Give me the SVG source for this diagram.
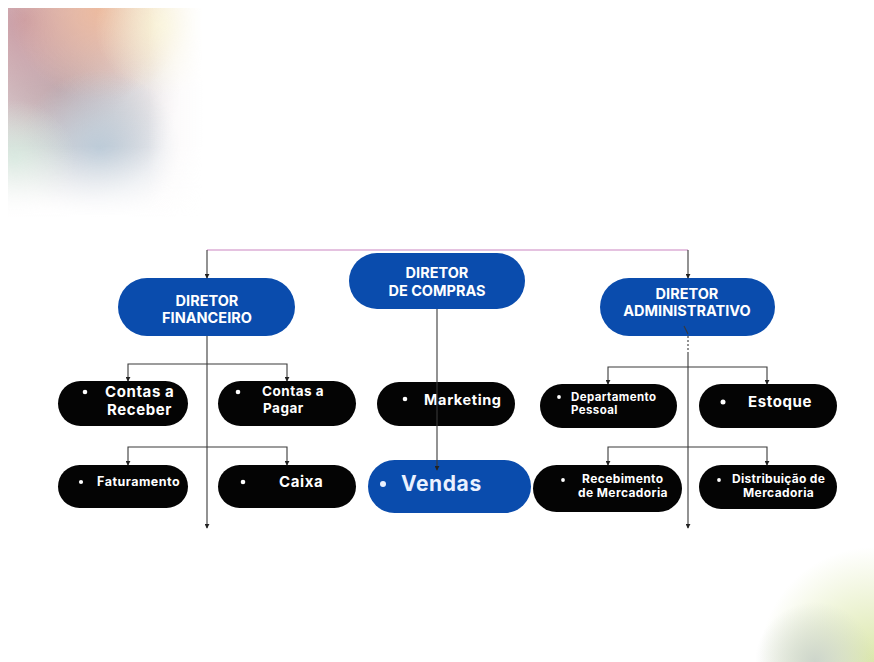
<svg xmlns="http://www.w3.org/2000/svg" width="874" height="662" viewBox="0 0 874 662">
<defs>
<style>
.blue{fill:#0a4cad}
.blk{fill:#040404}
.t{font-family:"Inter","Liberation Sans",sans-serif;font-weight:700;fill:#ffffff}
.h{font-size:14.5px;text-anchor:middle}
.c{fill:none;stroke:#3a3a3a;stroke-width:1.1}
</style>
<marker id="ar" viewBox="0 0 6 6" refX="5" refY="3" markerWidth="5" markerHeight="5" orient="auto" markerUnits="userSpaceOnUse">
<path d="M0,0 L6,3 L0,6 z" fill="#222"/>
</marker>
<clipPath id="tl"><rect x="8" y="8" width="200" height="215"/></clipPath>
<linearGradient id="fx" x1="0" y1="0" x2="1" y2="0"><stop offset="0.72" stop-color="#fff"/><stop offset="1" stop-color="#000"/></linearGradient>
<linearGradient id="fy" x1="0" y1="0" x2="0" y2="1"><stop offset="0.66" stop-color="#fff"/><stop offset="1" stop-color="#000"/></linearGradient>
<mask id="mx" maskUnits="userSpaceOnUse" x="0" y="0" width="874" height="662"><rect x="8" y="8" width="195" height="215" fill="url(#fx)"/></mask>
<mask id="my" maskUnits="userSpaceOnUse" x="0" y="0" width="874" height="662"><rect x="8" y="8" width="195" height="210" fill="url(#fy)"/></mask>
<radialGradient id="g1"><stop offset="0" stop-color="#c99ba3"/><stop offset="1" stop-color="#c99ba3" stop-opacity="0"/></radialGradient>
<radialGradient id="g2"><stop offset="0" stop-color="#ecba9f"/><stop offset="1" stop-color="#ecba9f" stop-opacity="0"/></radialGradient>
<radialGradient id="g3"><stop offset="0" stop-color="#f8f2d4"/><stop offset="1" stop-color="#f8f2d4" stop-opacity="0"/></radialGradient>
<radialGradient id="g4"><stop offset="0" stop-color="#bccbd8"/><stop offset="1" stop-color="#bccbd8" stop-opacity="0"/></radialGradient>
<radialGradient id="g5"><stop offset="0" stop-color="#d4e6dc"/><stop offset="1" stop-color="#d4e6dc" stop-opacity="0"/></radialGradient>
<radialGradient id="g6"><stop offset="0" stop-color="#bcb3b6"/><stop offset="1" stop-color="#bcb3b6" stop-opacity="0"/></radialGradient>
<radialGradient id="g7"><stop offset="0" stop-color="#dbe7aa"/><stop offset="1" stop-color="#dbe7aa" stop-opacity="0"/></radialGradient>
<radialGradient id="g8"><stop offset="0" stop-color="#cdd5cb"/><stop offset="1" stop-color="#cdd5cb" stop-opacity="0"/></radialGradient>
</defs>
<rect width="874" height="662" fill="#ffffff"/>
<g id="bg-top-left" mask="url(#mx)"><g mask="url(#my)"><g clip-path="url(#tl)">
<rect x="8" y="8" width="200" height="215" fill="#f3eef0" opacity="0.5"/>
<circle cx="60" cy="90" r="120" fill="url(#g6)"/>
<circle cx="25" cy="20" r="130" fill="url(#g1)"/>
<circle cx="100" cy="10" r="90" fill="url(#g2)"/>
<circle cx="165" cy="25" r="70" fill="url(#g3)"/>
<circle cx="100" cy="150" r="80" fill="url(#g4)"/>
<circle cx="15" cy="160" r="60" fill="url(#g5)"/>
</g></g></g>
<g id="bg-bottom-right">
<circle cx="874" cy="662" r="115" fill="url(#g7)"/>
<circle cx="815" cy="662" r="60" fill="url(#g8)"/>
</g>
<g id="dir-financeiro"><rect class="blue" x="118" y="278" width="177" height="58" rx="29"/>
<text class="t h" x="207" y="306">DIRETOR</text><text class="t h" x="207" y="323">FINANCEIRO</text></g>
<g id="dir-compras"><rect class="blue" x="349" y="253" width="176" height="56" rx="28"/>
<text class="t h" x="437" y="278">DIRETOR</text><text class="t h" x="437" y="296">DE COMPRAS</text></g>
<g id="dir-administrativo"><rect class="blue" x="600" y="278" width="175" height="58" rx="29"/>
<text class="t h" x="687" y="299">DIRETOR</text><text class="t h" x="687" y="316">ADMINISTRATIVO</text></g>
<g id="contas-receber"><rect class="blk" x="58" y="381" width="130" height="45" rx="22.5"/>
<circle cx="85" cy="392" r="2.3" fill="#fff"/>
<text class="t" font-size="15" letter-spacing="0.6" x="105" y="397">Contas a</text><text class="t" font-size="15" letter-spacing="0.6" x="107" y="415">Receber</text></g>
<g id="contas-pagar"><rect class="blk" x="218" y="381" width="138" height="45" rx="22.5"/>
<circle cx="238" cy="392" r="2.3" fill="#fff"/>
<text class="t" font-size="13.5" letter-spacing="0.5" x="262" y="396">Contas a</text><text class="t" font-size="13.5" letter-spacing="0.5" x="263" y="413">Pagar</text></g>
<g id="faturamento"><rect class="blk" x="58" y="465" width="130" height="43" rx="21.5"/>
<circle cx="81" cy="482" r="2.1" fill="#fff"/>
<text class="t" font-size="12.5" letter-spacing="0.5" x="97" y="486">Faturamento</text></g>
<g id="caixa"><rect class="blk" x="218" y="465" width="138" height="43" rx="21.5"/>
<circle cx="243" cy="482" r="2.3" fill="#fff"/>
<text class="t" font-size="15" letter-spacing="0.6" x="279" y="487">Caixa</text></g>
<g id="marketing"><rect class="blk" x="377" y="382" width="138" height="44" rx="22"/>
<circle cx="405" cy="399" r="2.3" fill="#fff"/>
<text class="t" font-size="14.5" letter-spacing="0.6" x="424" y="405">Marketing</text></g>
<g id="vendas"><rect class="blue" x="368" y="460" width="163" height="53" rx="26.5"/>
<circle cx="383" cy="484" r="3" fill="#eaf1ff"/>
<text class="t" font-size="21" letter-spacing="0.6" x="401" y="491" style="fill:#eaf1ff">Vendas</text></g>
<g id="departamento-pessoal"><rect class="blk" x="540" y="384" width="137" height="44" rx="22"/>
<circle cx="559" cy="397" r="1.9" fill="#fff"/>
<text class="t" font-size="11.5" letter-spacing="0.4" x="571" y="401">Departamento</text><text class="t" font-size="11.5" letter-spacing="0.4" x="571" y="414">Pessoal</text></g>
<g id="estoque"><rect class="blk" x="699" y="384" width="138" height="44" rx="22"/>
<circle cx="723" cy="402" r="2.5" fill="#fff"/>
<text class="t" font-size="15" letter-spacing="0.6" x="748" y="407">Estoque</text></g>
<g id="recebimento-mercadoria"><rect class="blk" x="533" y="465" width="149" height="47" rx="23.5"/>
<circle cx="563" cy="480" r="1.9" fill="#fff"/>
<text class="t" font-size="12" letter-spacing="0.4" x="582" y="483">Recebimento</text><text class="t" font-size="12" letter-spacing="0.4" x="578" y="497">de Mercadoria</text></g>
<g id="distribuicao-mercadoria"><rect class="blk" x="699" y="465" width="138" height="44" rx="22"/>
<circle cx="719" cy="480" r="1.9" fill="#fff"/>
<text class="t" font-size="12" letter-spacing="0.3" x="732" y="483">Distribuição de</text><text class="t" font-size="12" letter-spacing="0.4" x="743" y="497">Mercadoria</text></g>
<g id="connectors">
<path d="M207,250 H688" fill="none" stroke="#dcaed6" stroke-width="1.4"/>
<path class="c" d="M207,250 V278" marker-end="url(#ar)"/>
<path class="c" d="M688,250 V278" marker-end="url(#ar)"/>
<path class="c" d="M207,336 V528" marker-end="url(#ar)"/>
<path class="c" d="M207,364 H128 V381" marker-end="url(#ar)"/>
<path class="c" d="M207,364 H287 V381" marker-end="url(#ar)"/>
<path class="c" d="M207,447 H128 V465" marker-end="url(#ar)"/>
<path class="c" d="M207,447 H287 V465" marker-end="url(#ar)"/>
<path class="c" d="M437,309 V470" marker-end="url(#ar)"/>
<path class="c" d="M684,326 L688,334"/>
<path class="c" d="M688,336 V352" stroke-dasharray="2,2"/>
<path class="c" d="M688,352 V528" marker-end="url(#ar)"/>
<path class="c" d="M688,367 H608 V384" marker-end="url(#ar)"/>
<path class="c" d="M688,367 H767 V384" marker-end="url(#ar)"/>
<path class="c" d="M688,447 H608 V465" marker-end="url(#ar)"/>
<path class="c" d="M688,447 H767 V465" marker-end="url(#ar)"/>
</g>
</svg>
